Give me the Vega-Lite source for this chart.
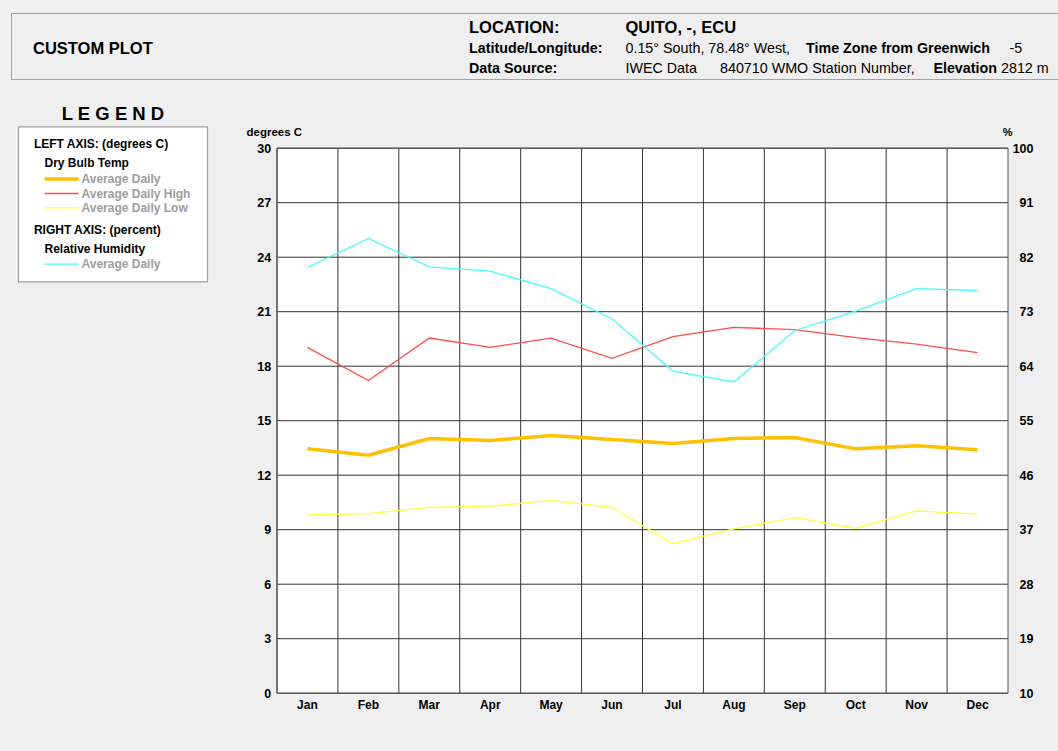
{
  "$schema": "https://vega.github.io/schema/vega-lite/v6.json",
  "background": "#efefef",
  "padding": {"left": 10, "top": 12, "right": 0, "bottom": 40},
  "config": {"font": "Liberation Sans", "view": {"stroke": null}},
  "datasets": {
    "header": [
      {"slot": 1, "line": 2, "role": "heading", "text": "CUSTOM PLOT"},
      {"slot": 2, "line": 1, "role": "heading", "text": "LOCATION:"},
      {"slot": 3, "line": 1, "role": "heading", "text": "QUITO, -, ECU"},
      {"slot": 2, "line": 2, "role": "label", "text": "Latitude/Longitude:"},
      {"slot": 3, "line": 2, "role": "value", "text": "0.15° South, 78.48° West,"},
      {"slot": 5, "line": 2, "role": "label", "text": "Time Zone from Greenwich"},
      {"slot": 8, "line": 2, "role": "value", "text": "-5"},
      {"slot": 2, "line": 3, "role": "label", "text": "Data Source:"},
      {"slot": 3, "line": 3, "role": "value", "text": "IWEC Data"},
      {"slot": 4, "line": 3, "role": "value", "text": "840710 WMO Station Number,"},
      {"slot": 6, "line": 3, "role": "label", "text": "Elevation"},
      {"slot": 7, "line": 3, "role": "value", "text": "2812 m"}
    ],
    "legendRows": [
      {"order": 1, "level": 1, "role": "axis", "text": "LEFT AXIS: (degrees C)"},
      {"order": 2, "level": 2, "role": "group", "text": "Dry Bulb Temp"},
      {"order": 3, "level": 3, "role": "item", "text": "Average Daily", "series": "Average Daily"},
      {"order": 4, "level": 3, "role": "item", "text": "Average Daily High", "series": "Average Daily High"},
      {"order": 5, "level": 3, "role": "item", "text": "Average Daily Low", "series": "Average Daily Low"},
      {"order": 6, "level": 1, "role": "axis", "text": "RIGHT AXIS: (percent)"},
      {"order": 7, "level": 2, "role": "group", "text": "Relative Humidity"},
      {"order": 8, "level": 3, "role": "item", "text": "Average Daily", "series": "Relative Humidity"}
    ],
    "ticks": [
      {"t": 0}, {"t": 3}, {"t": 6}, {"t": 9}, {"t": 12}, {"t": 15}, {"t": 18}, {"t": 21}, {"t": 24}, {"t": 27}, {"t": 30}
    ],
    "temperature": [
      {"month": "Jan", "series": "Average Daily", "value": 13.45},
      {"month": "Feb", "series": "Average Daily", "value": 13.1},
      {"month": "Mar", "series": "Average Daily", "value": 14.02},
      {"month": "Apr", "series": "Average Daily", "value": 13.91},
      {"month": "May", "series": "Average Daily", "value": 14.19},
      {"month": "Jun", "series": "Average Daily", "value": 13.97},
      {"month": "Jul", "series": "Average Daily", "value": 13.75},
      {"month": "Aug", "series": "Average Daily", "value": 14.02},
      {"month": "Sep", "series": "Average Daily", "value": 14.08},
      {"month": "Oct", "series": "Average Daily", "value": 13.45},
      {"month": "Nov", "series": "Average Daily", "value": 13.62},
      {"month": "Dec", "series": "Average Daily", "value": 13.4},
      {"month": "Jan", "series": "Average Daily High", "value": 19.04},
      {"month": "Feb", "series": "Average Daily High", "value": 17.21},
      {"month": "Mar", "series": "Average Daily High", "value": 19.55},
      {"month": "Apr", "series": "Average Daily High", "value": 19.04},
      {"month": "May", "series": "Average Daily High", "value": 19.55},
      {"month": "Jun", "series": "Average Daily High", "value": 18.43},
      {"month": "Jul", "series": "Average Daily High", "value": 19.63},
      {"month": "Aug", "series": "Average Daily High", "value": 20.14},
      {"month": "Sep", "series": "Average Daily High", "value": 20.01},
      {"month": "Oct", "series": "Average Daily High", "value": 19.57},
      {"month": "Nov", "series": "Average Daily High", "value": 19.22},
      {"month": "Dec", "series": "Average Daily High", "value": 18.75},
      {"month": "Jan", "series": "Average Daily Low", "value": 9.81},
      {"month": "Feb", "series": "Average Daily Low", "value": 9.88},
      {"month": "Mar", "series": "Average Daily Low", "value": 10.23},
      {"month": "Apr", "series": "Average Daily Low", "value": 10.3},
      {"month": "May", "series": "Average Daily Low", "value": 10.61},
      {"month": "Jun", "series": "Average Daily Low", "value": 10.23},
      {"month": "Jul", "series": "Average Daily Low", "value": 8.23},
      {"month": "Aug", "series": "Average Daily Low", "value": 9.05},
      {"month": "Sep", "series": "Average Daily Low", "value": 9.66},
      {"month": "Oct", "series": "Average Daily Low", "value": 9.08},
      {"month": "Nov", "series": "Average Daily Low", "value": 10.04},
      {"month": "Dec", "series": "Average Daily Low", "value": 9.86}
    ],
    "humidity": [
      {"month": "Jan", "value": 80.3},
      {"month": "Feb", "value": 85.1},
      {"month": "Mar", "value": 80.4},
      {"month": "Apr", "value": 79.7},
      {"month": "May", "value": 76.8},
      {"month": "Jun", "value": 71.8},
      {"month": "Jul", "value": 63.2},
      {"month": "Aug", "value": 61.4},
      {"month": "Sep", "value": 69.9},
      {"month": "Oct", "value": 73.1},
      {"month": "Nov", "value": 76.8},
      {"month": "Dec", "value": 76.5}
    ]
  },
  "concat": [
    {
      "width": 1048,
      "height": 66,
      "view": {"fill": "#efefef", "stroke": "#a3a3a3", "strokeWidth": 1},
      "data": {"name": "header"},
      "encoding": {
        "x": {"field": "slot", "type": "quantitative", "scale": {"domain": [1, 2, 3, 4, 5, 6, 7, 8], "range": [22, 458, 614.5, 709, 795, 922.4, 990, 998.6], "nice": false, "zero": false}, "axis": null},
        "y": {"field": "line", "type": "quantitative", "scale": {"domain": [1, 2, 3], "range": [15, 35.5, 56], "nice": false, "zero": false}, "axis": null},
        "text": {"field": "text"}
      },
      "layer": [
        {"transform": [{"filter": "datum.role === 'heading'"}], "mark": {"type": "text", "align": "left", "baseline": "middle", "fontSize": 16.5, "fontWeight": "bold", "color": "black"}},
        {"transform": [{"filter": "datum.role === 'label'"}], "mark": {"type": "text", "align": "left", "baseline": "middle", "fontSize": 14.3, "fontWeight": "bold", "color": "black"}},
        {"transform": [{"filter": "datum.role === 'value'"}], "mark": {"type": "text", "align": "left", "baseline": "middle", "fontSize": 14.3, "fontWeight": "normal", "color": "black"}}
      ]
    },
    {
      "columns": 2,
      "spacing": 37,
      "concat": [
        {
          "width": 196.5,
          "height": 155,
          "view": {"fill": null, "stroke": null},
          "title": {"text": "L E G E N D", "anchor": "middle", "frame": "group", "dx": 3.75, "fontSize": 18.5, "fontWeight": "bold", "color": "black", "offset": 3},
          "layer": [
            {
              "data": {"values": [{}]},
              "mark": {"type": "rect", "fill": "white", "stroke": "#a0a0a0", "strokeWidth": 1.2},
              "encoding": {
                "x": {"datum": 0, "type": "quantitative", "scale": {"domain": [0, 1, 2, 2.5, 3, 4], "range": [7.5, 22.9, 33.5, 50.5, 70.5, 196.5], "nice": false, "zero": false}, "axis": null},
                "x2": {"datum": 4},
                "y": {"datum": 0, "type": "quantitative", "scale": {"domain": [0, 1, 2, 3, 4, 5, 6, 7, 8, 9], "range": [0, 16.6, 36, 52, 66.6, 81, 103.3, 121.6, 137.3, 155], "nice": false, "zero": false}, "axis": null},
                "y2": {"datum": 9}
              }
            },
            {
              "data": {"name": "legendRows"},
              "transform": [{"filter": "datum.role !== 'item'"}],
              "mark": {"type": "text", "align": "left", "baseline": "middle", "fontSize": 12, "fontWeight": "bold", "color": "black"},
              "encoding": {
                "x": {"field": "level", "type": "quantitative", "axis": null},
                "y": {"field": "order", "type": "quantitative", "axis": null},
                "text": {"field": "text"}
              }
            },
            {
              "data": {"name": "legendRows"},
              "transform": [{"filter": "datum.role === 'item'"}],
              "mark": {"type": "text", "align": "left", "baseline": "middle", "fontSize": 12, "fontWeight": "bold", "color": "#9d9d9d"},
              "encoding": {
                "x": {"field": "level", "type": "quantitative", "axis": null},
                "y": {"field": "order", "type": "quantitative", "axis": null},
                "text": {"field": "text"}
              }
            },
            {
              "data": {"name": "legendRows"},
              "transform": [{"filter": "datum.role === 'item'"}],
              "mark": {"type": "point", "shape": "stroke", "size": 1156, "filled": false, "opacity": 1},
              "encoding": {
                "x": {"datum": 2.5, "type": "quantitative", "axis": null},
                "y": {"field": "order", "type": "quantitative", "axis": null},
                "color": {"field": "series", "type": "nominal", "scale": {"domain": ["Average Daily", "Average Daily High", "Average Daily Low", "Relative Humidity"], "range": ["#FFC000", "#FF4D4D", "#FFFF3C", "#40FFFF"]}, "legend": null},
                "strokeWidth": {"condition": {"test": "datum.series === 'Average Daily'", "value": 3.5}, "value": 1.3}
              }
            }
          ]
        },
        {
          "width": 731,
          "height": 566.3,
          "view": {"fill": null, "stroke": null},
          "layer": [
            {
              "layer": [
                {
                  "data": {"values": [{}]},
                  "mark": {"type": "rect", "fill": "white"},
                  "encoding": {
                    "y": {"datum": 0, "type": "quantitative"},
                    "y2": {"datum": 30}
                  }
                },
                {
                  "data": {"name": "ticks"},
                  "mark": {"type": "rule", "color": "#333333", "strokeWidth": 1},
                  "encoding": {
                    "y": {"field": "t", "type": "quantitative"}
                  }
                },
                {
                  "data": {"name": "humidity"},
                  "mark": {"type": "rule", "color": "#333333", "strokeWidth": 1},
                  "encoding": {
                    "x": {"field": "month", "type": "ordinal", "bandPosition": 0, "sort": ["Jan", "Feb", "Mar", "Apr", "May", "Jun", "Jul", "Aug", "Sep", "Oct", "Nov", "Dec"]},
                    "y": {"datum": 0, "type": "quantitative"},
                    "y2": {"datum": 30}
                  }
                },
                {
                  "data": {"name": "temperature"},
                  "mark": {"type": "line"},
                  "encoding": {
                    "x": {
                      "field": "month", "type": "ordinal",
                      "sort": ["Jan", "Feb", "Mar", "Apr", "May", "Jun", "Jul", "Aug", "Sep", "Oct", "Nov", "Dec"],
                      "scale": {"type": "band", "paddingInner": 0, "paddingOuter": 0},
                      "axis": {"title": null, "bandPosition": 0.5, "labelAngle": 0, "labelAlign": "center", "labelFontSize": 12, "labelFontWeight": "bold", "labelColor": "black", "labelPadding": 11, "ticks": false, "domain": false, "grid": false}
                    },
                    "y": {
                      "field": "value", "type": "quantitative",
                      "scale": {"domain": [0, 30], "range": [566.3, 21.3], "nice": false, "zero": false},
                      "axis": {"values": [0, 3, 6, 9, 12, 15, 18, 21, 24, 27, 30], "title": "degrees C", "titleAngle": 0, "titleAlign": "left", "titleBaseline": "middle", "titleX": -31, "titleY": 6, "titleFontSize": 11.5, "titleFontWeight": "bold", "titleColor": "black", "grid": false, "ticks": false, "domain": false, "labelFontSize": 12.5, "labelFontWeight": "bold", "labelColor": "black", "labelPadding": 6.3, "labelFlush": false, "labelOverlap": false}
                    },
                    "color": {"field": "series", "type": "nominal", "scale": {"domain": ["Average Daily", "Average Daily High", "Average Daily Low"], "range": ["#FFC000", "#FF4D4D", "#FFFF3C"]}, "legend": null},
                    "strokeWidth": {"condition": {"test": "datum.series === 'Average Daily'", "value": 3.5}, "value": 1.3}
                  }
                },
                {
                  "data": {"values": [{}]},
                  "mark": {"type": "rect", "fill": null, "fillOpacity": 0, "stroke": "#555555", "strokeWidth": 1},
                  "encoding": {
                    "y": {"datum": 0, "type": "quantitative"},
                    "y2": {"datum": 30}
                  }
                }
              ]
            },
            {
              "data": {"name": "humidity"},
              "mark": {"type": "line", "color": "#40FFFF", "strokeWidth": 1.3},
              "encoding": {
                "x": {"field": "month", "type": "ordinal", "sort": ["Jan", "Feb", "Mar", "Apr", "May", "Jun", "Jul", "Aug", "Sep", "Oct", "Nov", "Dec"]},
                "y": {
                  "field": "value", "type": "quantitative",
                  "scale": {"domain": [10, 100], "range": [566.3, 21.3], "nice": false, "zero": false},
                  "axis": {"orient": "right", "values": [10, 19, 28, 37, 46, 55, 64, 73, 82, 91, 100], "title": "%", "titleAngle": 0, "titleAlign": "center", "titleBaseline": "middle", "titleX": -0.8, "titleY": 6, "titleFontSize": 11, "titleFontWeight": "bold", "titleColor": "black", "grid": false, "ticks": false, "domain": false, "labelFontSize": 12.5, "labelFontWeight": "bold", "labelColor": "black", "labelAlign": "right", "labelPadding": 25, "labelFlush": false, "labelOverlap": false}
                }
              }
            }
          ],
          "resolve": {"scale": {"y": "independent"}}
        }
      ]
    }
  ],
  "columns": 1,
  "spacing": 23.9
}
